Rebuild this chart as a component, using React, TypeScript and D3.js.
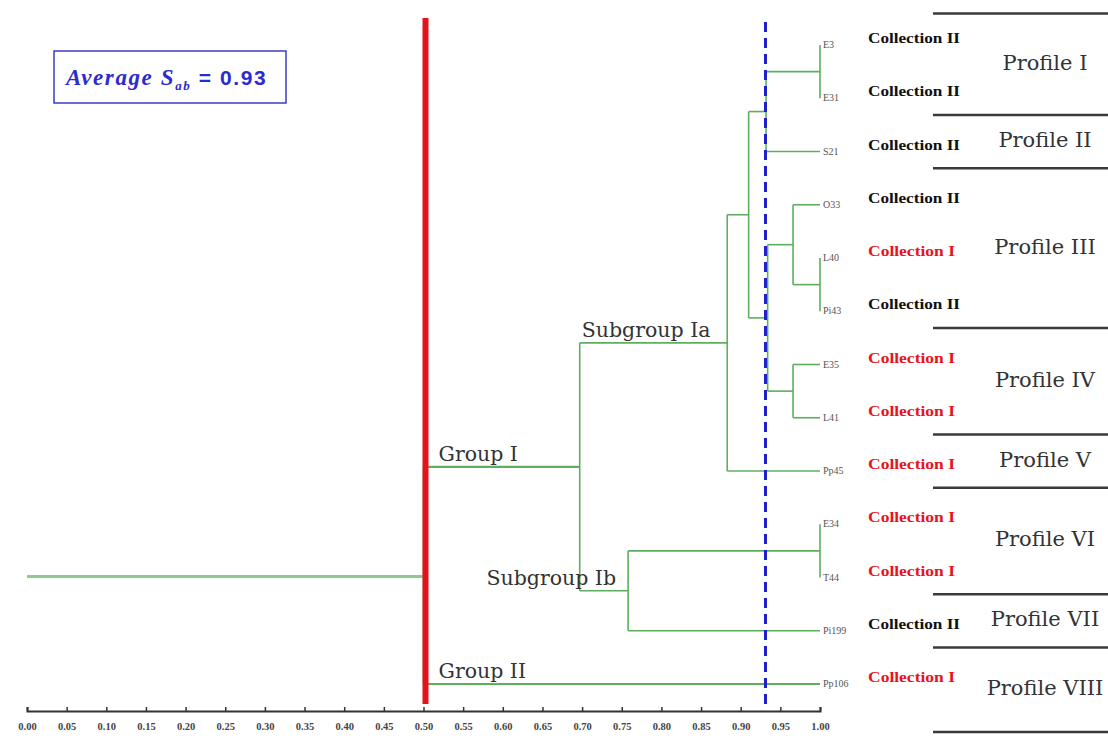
import React, { useRef, useEffect } from 'react';
import * as d3 from 'd3';

// leaf order, top to bottom
const leafNames = ['E3', 'E31', 'S21', 'O33', 'L40', 'Pi43', 'E35', 'L41', 'Pp45', 'E34', 'T44', 'Pi199', 'Pp106'];
const leafCollections = ['II', 'II', 'II', 'II', 'I', 'II', 'I', 'I', 'I', 'I', 'I', 'II', 'I'];

// merges: [childA, childB, similarity, node id]
const merges: [string, string, number, string][] = [
  ['E3', 'E31', 1.0, 'm1'],
  ['m1', 'S21', 0.932, 'm2'],
  ['L40', 'Pi43', 1.0, 'm3'],
  ['O33', 'm3', 0.966, 'm4'],
  ['E35', 'L41', 0.966, 'm5'],
  ['m4', 'm5', 0.934, 'm6'],
  ['m2', 'm6', 0.910, 'm7'],
  ['m7', 'Pp45', 0.883, 'Ia'],
  ['E34', 'T44', 1.0, 'm8'],
  ['m8', 'Pi199', 0.758, 'Ib'],
  ['Ia', 'Ib', 0.697, 'GI'],
  ['GI', 'Pp106', 0.5, 'root'],
];

const groupLabels: [string, string][] = [
  ['GI', 'Group I'],
  ['Pp106', 'Group II'],
  ['Ia', 'Subgroup Ia'],
  ['Ib', 'Subgroup Ib'],
];

const profileNames = ['Profile I', 'Profile II', 'Profile III', 'Profile IV', 'Profile V', 'Profile VI', 'Profile VII', 'Profile VIII'];
const profileSizes = [2, 1, 3, 2, 1, 2, 1, 1];

const cutoff = 0.93;
const axisTicks = d3.range(0, 20.5, 1).map((i) => i / 20);

const W = 1108;
const H = 736;

interface NodeRow { id: string; parent: string | null; sim: number; }

const App: React.FC = () => {
  const svgRef = useRef<SVGSVGElement | null>(null);

  useEffect(() => {
    if (!svgRef.current) return;
    const svg = d3.select<SVGSVGElement, unknown>(svgRef.current);
    svg.selectAll('*').remove();

    const x = d3.scaleLinear().domain([0, 1]).range([27, 820]);
    const y = d3.scalePoint<string>().domain(leafNames).range([45, 684]);
    const step = y.step();

    // table for stratify
    const parentOf = new Map<string, string>();
    merges.forEach(([a, b, , id]) => { parentOf.set(a, id); parentOf.set(b, id); });
    const rows: NodeRow[] = [
      ...leafNames.map((n) => ({ id: n, parent: parentOf.get(n) ?? null, sim: 1 })),
      ...merges.map(([, , s, id]) => ({ id, parent: parentOf.get(id) ?? null, sim: s })),
    ];
    const root = d3.stratify<NodeRow>().id((d) => d.id).parentId((d) => d.parent)(rows);

    const posY = new Map<string, number>();
    root.eachAfter((n) => {
      if (!n.children) posY.set(n.id!, y(n.id!)!);
      else posY.set(n.id!, d3.mean(n.children, (c) => posY.get(c.id!)!)!);
    });
    const px = (n: d3.HierarchyNode<NodeRow>) => x(n.data.sim);
    const py = (n: d3.HierarchyNode<NodeRow>) => posY.get(n.id!)!;

    const green = '#5fae5f';

    // root stem
    svg.append('line')
      .attr('x1', x(0)).attr('x2', px(root))
      .attr('y1', py(root) + 1).attr('y2', py(root) + 1)
      .attr('stroke', '#8fc98f').attr('stroke-width', 3);

    const links = svg.append('g').attr('fill', 'none').attr('stroke', green).attr('stroke-width', 1.6);
    root.descendants().filter((n) => n.children).forEach((n) => {
      const ys = n.children!.map(py);
      links.append('line')
        .attr('x1', px(n)).attr('x2', px(n))
        .attr('y1', d3.min(ys)!).attr('y2', d3.max(ys)!);
      n.children!.forEach((c) => {
        if (px(c) > px(n)) {
          links.append('line')
            .attr('x1', px(n)).attr('x2', px(c))
            .attr('y1', py(c)).attr('y2', py(c))
            .attr('stroke-width', n === root ? 2.2 : 1.6);
        }
      });
    });

    // red line at root
    svg.append('line')
      .attr('x1', px(root) + 2).attr('x2', px(root) + 2)
      .attr('y1', 18).attr('y2', 704)
      .attr('stroke', '#e4131b').attr('stroke-width', 6);

    // cut-off line
    svg.append('line')
      .attr('x1', x(cutoff) + 1).attr('x2', x(cutoff) + 1)
      .attr('y1', 22).attr('y2', 706)
      .attr('stroke', '#2020c8').attr('stroke-width', 3)
      .attr('stroke-dasharray', '10,6');

    // group labels
    const byId = new Map(root.descendants().map((n) => [n.id!, n]));
    groupLabels.forEach(([id, label]) => {
      const n = byId.get(id)!;
      const parent = n.parent!;
      const t = svg.append('text')
        .attr('y', py(n) - 6)
        .attr('font-family', 'DejaVu Serif')
        .attr('font-size', 20.5)
        .attr('fill', '#333')
        .text(label);
      if (id === 'Ib') t.attr('x', px(n) - 12).attr('text-anchor', 'end');
      else if (id === 'Ia') t.attr('x', px(parent) + 2);
      else t.attr('x', px(parent) + 15);
    });

    // leaf labels
    leafNames.forEach((n, i) => {
      svg.append('text')
        .attr('x', x(1) + 3).attr('y', y(n)! + 3)
        .attr('font-family', 'Liberation Serif')
        .attr('font-size', 10)
        .attr('fill', '#555')
        .text(n);
      const col = leafCollections[i];
      svg.append('text')
        .attr('x', 868).attr('y', y(n)! - 5)
        .attr('dominant-baseline', 'middle')
        .attr('font-family', 'Liberation Serif')
        .attr('font-weight', 'bold')
        .attr('font-size', 14)
        .attr('textLength', col === 'I' ? 87 : 92)
        .attr('lengthAdjust', 'spacingAndGlyphs')
        .attr('fill', col === 'I' ? '#e8141c' : '#111')
        .text(`Collection ${col}`);
    });

    // profile separators
    const starts = d3.cumsum([0, ...profileSizes.slice(0, -1)]);
    const seps: number[] = [y(leafNames[0])! - step / 2 - 5];
    profileSizes.forEach((s, i) => {
      const last = leafNames[starts[i] + s - 1];
      const next = leafNames[starts[i] + s];
      if (next) seps.push((y(last)! + y(next)!) / 2 - 10);
      else seps.push(y(last)! + step * 0.9);
    });
    svg.append('g').selectAll('line').data(seps).enter().append('line')
      .attr('x1', 933).attr('x2', W)
      .attr('y1', (d) => d).attr('y2', (d) => d)
      .attr('stroke', '#3a3a3a').attr('stroke-width', 2.5);

    svg.append('g').selectAll('text').data(profileNames).enter().append('text')
      .attr('x', 1045)
      .attr('y', (d, i) => (seps[i] + seps[i + 1]) / 2)
      .attr('dominant-baseline', 'middle')
      .attr('text-anchor', 'middle')
      .attr('font-family', 'DejaVu Serif')
      .attr('font-size', 21)
      .attr('fill', '#333')
      .text((d) => d);

    // axis
    const axis = svg.append('g')
      .attr('transform', 'translate(0,711)')
      .call(d3.axisBottom(x).tickValues(axisTicks).tickFormat(d3.format('.2f')).tickSizeInner(-4).tickSizeOuter(-4).tickPadding(12));
    axis.select('.domain').attr('stroke', '#333').attr('stroke-width', 2);
    axis.selectAll('.tick line').attr('stroke', '#333').attr('stroke-width', 1.5);
    axis.selectAll('.tick text')
      .attr('font-family', 'Liberation Serif')
      .attr('font-size', 10.5)
      .attr('font-weight', 'bold')
      .attr('fill', '#444');

    // legend box
    svg.append('rect')
      .attr('x', 54).attr('y', 51).attr('width', 232).attr('height', 52)
      .attr('fill', '#fff').attr('stroke', '#3c3cc8').attr('stroke-width', 1.5);
    const lt = svg.append('text')
      .attr('x', 66).attr('y', 85)
      .attr('font-family', 'Liberation Serif')
      .attr('font-size', 23)
      .attr('font-weight', 'bold')
      .attr('letter-spacing', 1.6)
      .attr('fill', '#2b2bd0');
    lt.append('tspan').attr('font-style', 'italic').text('Average S');
    lt.append('tspan').attr('font-style', 'italic').attr('font-size', 13).attr('dy', 5).text('ab');
    lt.append('tspan').attr('dy', -5).attr('font-family', 'Liberation Sans').attr('font-size', 21).text(` = ${cutoff.toFixed(2)}`);
  }, []);

  return (
    <svg ref={svgRef} width={W} height={H}
      style={{ position: 'absolute', left: 0, top: 0, background: '#fff' }} />
  );
};

export default App;
